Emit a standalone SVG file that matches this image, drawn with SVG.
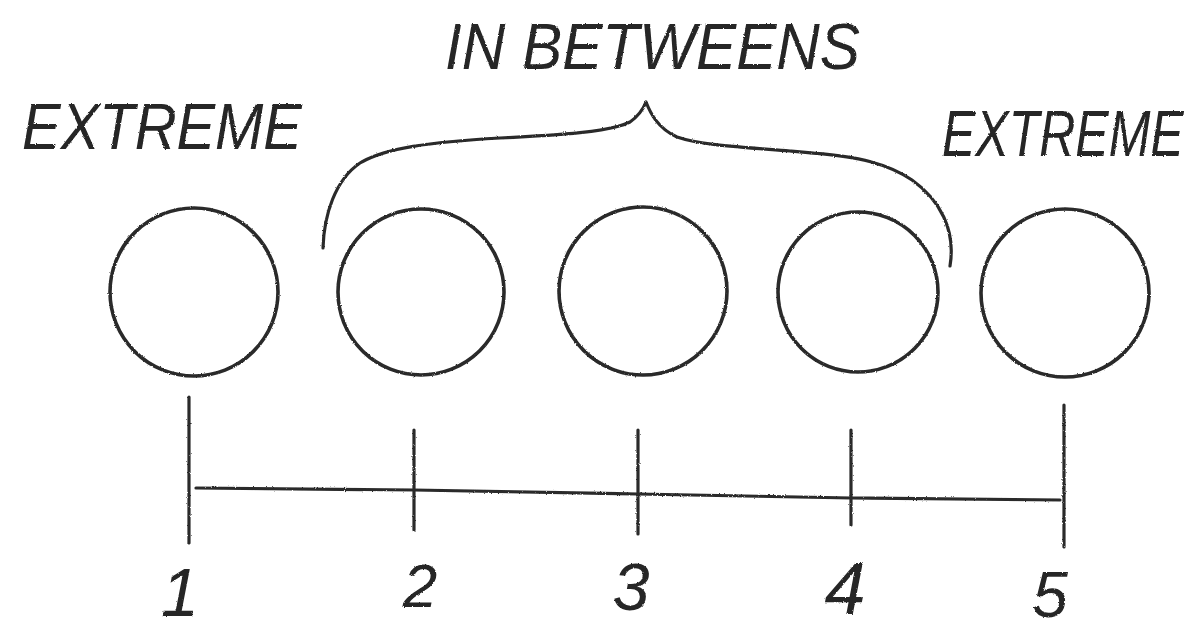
<svg xmlns="http://www.w3.org/2000/svg" width="1199" height="633" viewBox="0 0 1199 633">
<style>
.bg{fill:#fff}
.ball{fill:none;stroke:#2a2a2a;stroke-width:3.6}
.ln{fill:none;stroke:#2a2a2a;stroke-width:3.2;stroke-linecap:round;stroke-linejoin:round}
.lbl{font-family:"Liberation Sans",Arial,sans-serif;font-style:italic;fill:#262626}
.num{font-family:"Liberation Sans",Arial,sans-serif;font-style:italic;fill:#262626}
</style>
<defs>
<filter id="pencil" x="-5%" y="-5%" width="110%" height="110%">
<feTurbulence type="fractalNoise" baseFrequency="0.9" numOctaves="2" seed="3" result="n"/>
<feDisplacementMap in="SourceGraphic" in2="n" scale="2.2" xChannelSelector="R" yChannelSelector="G"/>
</filter>
</defs>
<rect class="bg" x="0" y="0" width="1199" height="633"/>
<g filter="url(#pencil)">
<g id="label-extreme-left"><text class="lbl" x="22" y="149" font-size="64" textLength="280" lengthAdjust="spacingAndGlyphs">EXTREME</text></g>
<g id="label-inbetweens"><text class="lbl" x="445" y="69" font-size="64" textLength="415" lengthAdjust="spacingAndGlyphs">IN BETWEENS</text></g>
<g id="label-extreme-right"><text class="lbl" transform="translate(942,156) scale(1,1.28)" x="0" y="0" font-size="50">EXTREME</text></g>
<g id="ball-1"><circle class="ball" cx="194" cy="292" r="84"/></g>
<g id="ball-2"><circle class="ball" cx="421" cy="292" r="83"/></g>
<g id="ball-3"><circle class="ball" cx="643" cy="291" r="84"/></g>
<g id="ball-4"><circle class="ball" cx="858" cy="292" r="80"/></g>
<g id="ball-5"><circle class="ball" cx="1065" cy="293" r="84"/></g>
<g id="connectors">
<path class="ln" d="M323,248 C324,215 335,180 360,163 C385,148 430,142 500,138 C560,135 610,132 630,122 C640,115 644,107 646,102 C650,112 657,128 677,137 C700,145 740,147 790,151 C840,155 880,158 912,180 C940,200 956,230 950,266"/>
<path class="ln" d="M196,488 L414,490 L638,494 L851,498 L1060,500"/>
<path class="ln" d="M189,397 L189,543"/>
<path class="ln" d="M414,430 L414,530"/>
<path class="ln" d="M638,430 L638,534"/>
<path class="ln" d="M851,430 L851,525"/>
<path class="ln" d="M1064,405 L1064,547"/>
</g>
<g id="num-1"><text class="num" x="180" y="616" font-size="68" text-anchor="middle">1</text></g>
<g id="num-2"><text class="num" x="420" y="607" font-size="62" text-anchor="middle">2</text></g>
<g id="num-3"><text class="num" x="631" y="610" font-size="66" text-anchor="middle">3</text></g>
<g id="num-4"><text class="num" x="845" y="614" font-size="74" text-anchor="middle">4</text></g>
<g id="num-5"><text class="num" x="1050" y="617" font-size="64" text-anchor="middle">5</text></g>
</g>
</svg>
